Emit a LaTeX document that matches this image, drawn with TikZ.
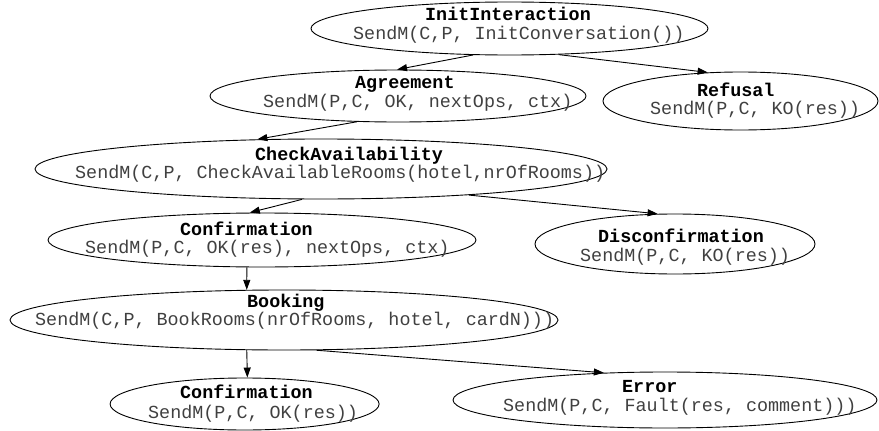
\documentclass[tikz,border=0pt]{standalone}
\usepackage{fontspec}
\setmonofont{Liberation Mono}
\usepackage{tikz}
\usetikzlibrary{arrows.meta,shapes.geometric}

\begin{document}
\begin{tikzpicture}[x=1pt,y=-1pt,
    state/.style={draw, ellipse, line width=0.9pt, inner sep=0pt},
    title/.style={anchor=base west, inner sep=0pt, text depth=0pt, font=\fontsize{18.4}{20}\selectfont\ttfamily\bfseries},
    detail/.style={anchor=base west, inner sep=0pt, text height=12pt, text=black!75, font=\fontsize{18.4}{20}\selectfont\ttfamily},
    edge/.style={line width=0.9pt, -{Triangle[length=10pt,width=7pt]}}]
      \useasboundingbox (0,0) rectangle (879,431);
      \node[state, minimum width=397, minimum height=53] (A) at (509.5,28.5) {};
      \node[state, minimum width=376, minimum height=52] (B) at (398,96) {};
      \node[state, minimum width=275, minimum height=58] (C) at (740.5,101) {};
      \node[state, minimum width=572, minimum height=60] (D) at (321,169) {};
      \node[state, minimum width=428, minimum height=54] (E) at (262,240) {};
      \node[state, minimum width=280, minimum height=60] (F) at (675,244) {};
      \node[state, minimum width=548, minimum height=60] (G) at (284,320) {};
      \node[state, minimum width=269, minimum height=52] (H) at (244.6,404) {};
      \node[state, minimum width=424, minimum height=56] (I) at (665,400) {};
        % Labels
      \node[title] (a1) at (425,20.5) {InitInteraction};
      \node[detail] (a2) at (353,39) {SendM(C,P, InitConversation())};
      \node[title] (b1) at (355,88.5) {Agreement};
      \node[detail] (b2) at (263,107) {SendM(P,C, OK, nextOps, ctx)};
      \node[title] (c1) at (697,96) {Refusal};
      \node[detail] (c2) at (650,114) {SendM(P,C, KO(res))};
      \node[title] (d1) at (255,160) {CheckAvailability};
      \node[detail] (d2) at (75,178) {SendM(C,P, CheckAvailableRooms(hotel,nrOfRooms))};
      \node[title] (e1) at (180,235) {Confirmation};
      \node[detail] (e2) at (85,253) {SendM(P,C, OK(res), nextOps, ctx)};
      \node[title] (f1) at (598,242) {Disconfirmation};
      \node[detail] (f2) at (580,261) {SendM(P,C, KO(res))};
      \node[title] (g1) at (247,307) {Booking};
      \node[detail] (g2) at (35,325) {SendM(C,P, BookRooms(nrOfRooms, hotel, cardN)))};
      \node[title] (h1) at (180,398) {Confirmation};
      \node[detail] (h2) at (148,418) {SendM(P,C, OK(res))};
      \node[title] (i1) at (622,392) {Error};
      \node[detail] (i2) at (503,411) {SendM(P,C, Fault(res, comment)))};
      \draw[edge] (A.216) -- (B.92);
      \draw[edge] (A.332.3) -- (C.139.1);
      \draw[edge] (B.212.4) -- (D.155.6);
      \draw[edge] (D.238.2) -- (E.114);
      \draw[edge] (D.350.2) -- (F.120.1);
      \draw[edge] (E.241) -- (G.141);
      \draw[edge] (G.219) -- (H.84.7);
      \draw[edge] (G.317.7) -- (I.156.5);
    \end{tikzpicture}
\end{document}
